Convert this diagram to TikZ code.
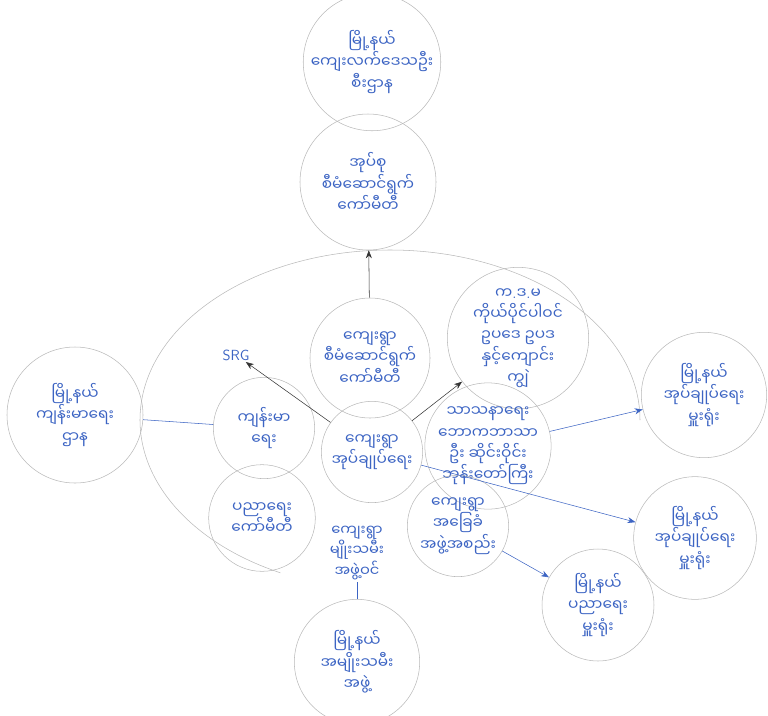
\documentclass[tikz,border=0pt]{standalone}
\usepackage{fontspec}
\newfontfamily\mmfont[Script=Myanmar]{Noto Sans Myanmar UI}
\usetikzlibrary{arrows.meta}
\definecolor{pen}{RGB}{60,100,195}
\definecolor{rim}{RGB}{185,185,185}

\begin{document}
\begin{tikzpicture}[x=0.75pt,y=-0.75pt,
  every node/.style={align=center,text=pen,inner sep=1pt,font=\mmfont\fontsize{11.5}{16}\selectfont},
  bubble/.style={draw=rim,circle,inner sep=0pt,minimum size=#1},
  ink/.style={black!80,thin,-{Stealth[length=6pt]}},
  penline/.style={pen,thin},
  penarrow/.style={pen,thin,-{Stealth[length=6pt]}}]
\useasboundingbox (0,0) rectangle (768,715);
% outer ring round the village cluster
\draw[rim] (640,420) arc[start angle=0,end angle=-244,x radius=250,y radius=170];
% top chain
\node[bubble=97pt] (TownRD) at (372,62) {မြို့နယ်\\ကျေးလက်ဒေသဦး\\စီးဌာန};
\node[bubble=102pt] (TractCom) at (368,182) {အုပ်စု\\စီမံဆောင်ရွက်\\ကော်မီတီ};
\node[bubble=90pt] (VillCom) at (370,358) {ကျေးရွာ\\စီမံဆောင်ရွက်\\ကော်မီတီ};
% centre
\node[bubble=76pt] (Village) at (372,452) {ကျေးရွာ\\အုပ်ချုပ်ရေး};
\node[font=\sffamily\fontsize{11}{13}\selectfont] (SRG) at (236,355) {SRG};
\node[bubble=106pt] (Plan) at (518,338) {က{\rmfamily.}ဒ{\rmfamily.}မ\\ကိုယ်ပိုင်ပါဝင်\\ဥပဒေ ဥပဒ\\နှင့်ကျောင်း\\ကျွဲ};
\node[bubble=86pt] (Relig) at (488,446) {သာသနာရေး\\ဘောကဘာသာ\\ဦး ဆိုင်းဝိုင်း\\ဘုန်းတော်ကြီး};
\node[bubble=76pt] (Health) at (264,428) {ကျန်းမာ\\ရေး};
\node[bubble=80pt] (Edu) at (262,518) {ပညာရေး\\ကော်မီတီ};
\node[bubble=76pt] (Groups) at (458,526) {ကျေးရွာ\\အခြေခံ\\အဖွဲ့အစည်း};
\node[font=\mmfont\fontsize{11}{14}\selectfont] (Women) at (357,553) {ကျေးရွာ\\မျိုးသမီး\\အဖွဲ့ဝင်};
% township offices
\node[bubble=102pt] (TownHealth) at (75,415) {မြို့နယ်\\ကျန်းမာရေး\\ဌာန};
\node[bubble=94pt] (TownGAD) at (704,395) {မြို့နယ်\\အုပ်ချုပ်ရေး\\မှူးရုံး};
\node[bubble=92pt] (TownAdm) at (695,538) {မြို့နယ်\\အုပ်ချုပ်ရေး\\မှူးရုံး};
\node[bubble=84pt] (TownEdu) at (598,605) {မြို့နယ်\\ပညာရေး\\မှူးရုံး};
\node[bubble=94pt] (TownWomen) at (357,662) {မြို့နယ်\\အမျိုးသမီး\\အဖွဲ့};
% links
\draw[ink] (VillCom) -- (TractCom);
\draw[ink] (Village) -- (SRG);
\draw[ink] (Village) -- (Plan);
\draw[penline] (TownHealth) -- (Health);
\draw[penarrow] (Relig) -- (TownGAD);
\draw[penarrow] (Village) -- (TownAdm);
\draw[penarrow] (Groups) -- (TownEdu);
\draw[penline] (TownWomen) -- (Women);
\end{tikzpicture}
\end{document}
